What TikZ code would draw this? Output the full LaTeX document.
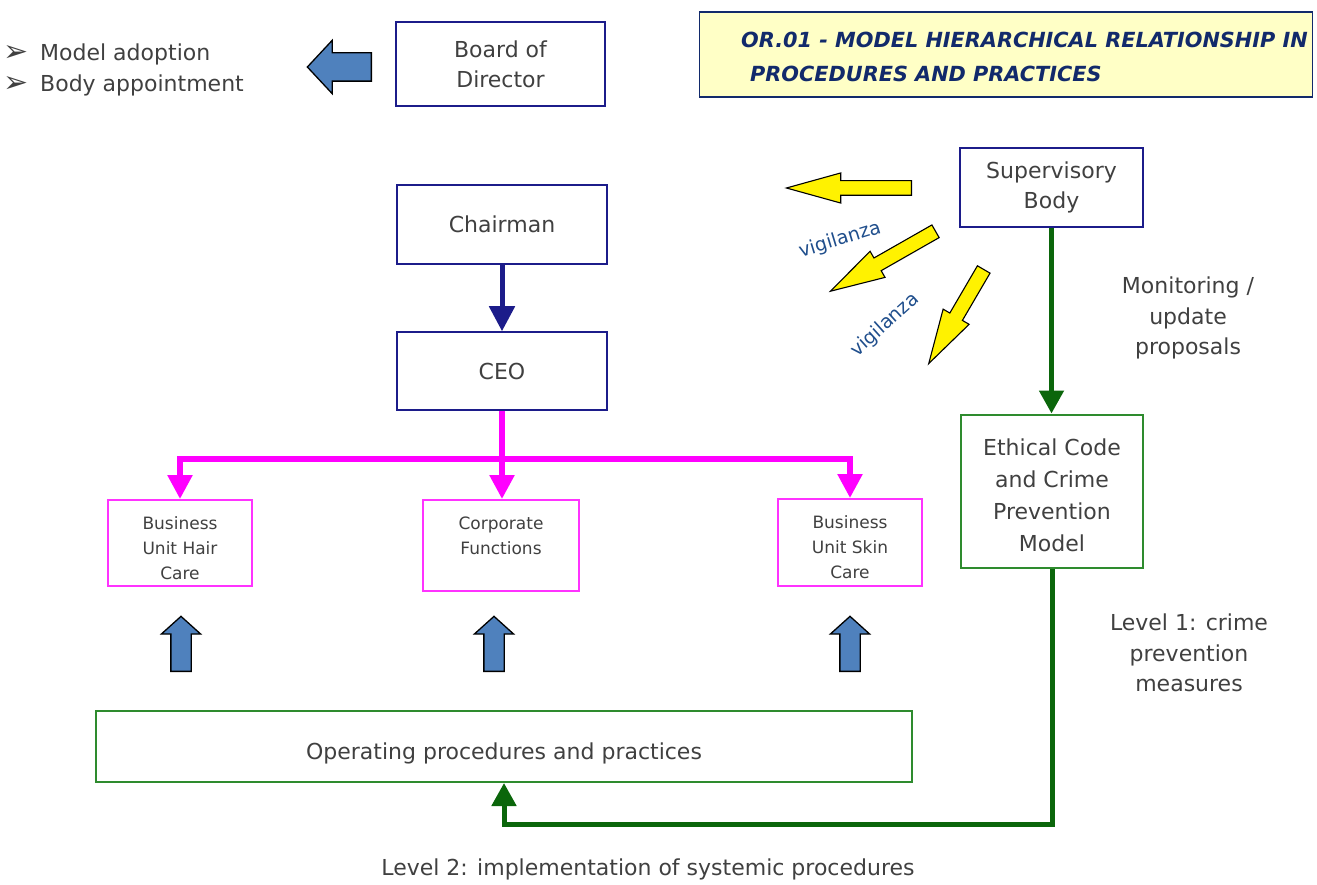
\documentclass[tikz,border=0pt]{standalone}
\usepackage{fontspec}
\setmainfont{DejaVu Sans}
\usetikzlibrary{shapes.arrows,arrows.meta,positioning}

\definecolor{boxnavy}{HTML}{1C1C8A}
\definecolor{textgrey}{HTML}{404040}
\definecolor{titlenavy}{HTML}{122A6B}
\definecolor{titlefill}{HTML}{FFFFC6}
\definecolor{boxpink}{HTML}{FF33FF}
\definecolor{linepink}{HTML}{FF00FF}
\definecolor{boxgreen}{HTML}{2E8B2E}
\definecolor{linegreen}{HTML}{0B660B}
\definecolor{arrowblue}{HTML}{4F81BD}
\definecolor{vigblue}{HTML}{1F4E8C}
\newcommand{\fs}[2]{\fontsize{#1}{#2}\selectfont}

\tikzset{
  navybox/.style={draw=boxnavy, line width=1.5pt, text=textgrey, align=center, font=\fs{22}{30}},
  pinkbox/.style={draw=boxpink, line width=2pt, text=textgrey, align=center, font=\fs{17}{25},
    minimum width=144pt, text height=73pt},
  greenbox/.style={draw=boxgreen, line width=2pt, text=textgrey, align=center, font=\fs{22}{32}},
  notetext/.style={text=textgrey, align=center, font=\fs{22}{30.5}},
  vigtext/.style={text=vigblue, font=\fs{19}{22}},
  blockarrow/.style={single arrow, draw=black, line width=1.3pt, inner xsep=0pt, minimum width=1pt, anchor=tail},
  bluearrow/.style={blockarrow, fill=arrowblue},
  yellowarrow/.style={blockarrow, fill=yellow, line width=1.1pt, inner ysep=6.75pt,
    single arrow head extend=7.75pt, single arrow tip angle=31, minimum height=#1},
  upblock/.style={bluearrow, rotate=90, minimum height=55pt, inner ysep=9.5pt,
    single arrow head extend=9.5pt, single arrow tip angle=96},
  navyline/.style={draw=boxnavy, line width=5pt, -{Triangle[length=25pt,width=25pt]}},
  pinkline/.style={draw=linepink, line width=5.5pt},
  pinktip/.style={pinkline, -{Triangle[length=24pt,width=24pt]}},
  greenline/.style={draw=linegreen, line width=5pt},
  greentip/.style={greenline, -{Triangle[length=23pt,width=24pt]}},
}

\begin{document}
\begin{tikzpicture}[x=1pt, y=-1pt]
  \useasboundingbox (0,0) rectangle (1317,885);

  % title
  \node[draw=titlenavy, line width=1.5pt, fill=titlefill, minimum width=613pt, minimum height=85pt] (titlebox) at (1006,54.5) {};
  \node[anchor=west, align=left, inner xsep=0pt, text=titlenavy, font=\fs{20.8}{34}\bfseries\itshape] (titletext) at (741,57)
    {OR.01 - MODEL HIERARCHICAL RELATIONSHIP IN\\\hspace{9pt}PROCEDURES AND PRACTICES};

  % hierarchy
  \node[navybox, minimum width=209pt, minimum height=84pt] (board) at (500.5,64) {Board of\\Director};
  \node[navybox, minimum width=210pt, minimum height=79pt] (chairman) at (502,224.5) {Chairman};
  \node[navybox, minimum width=210pt, minimum height=78pt] (ceo) at (502,371) {CEO};
  \node[navybox, minimum width=183pt, minimum height=79pt] (supervisory) at (1051.5,187.5) {Supervisory\\Body};
  \node[greenbox, minimum width=182pt, minimum height=153pt, text height=120.7pt] (ethical) at (1052,491) {Ethical Code\\and Crime\\Prevention\\Model};

  \node[pinkbox, minimum height=86pt] (hair) at (180,543) {Business\\Unit Hair\\Care};
  \node[pinkbox, minimum width=156pt, minimum height=91pt, text height=67pt] (corporate) at (501,545.5) {Corporate\\Functions\\\mbox{}};
  \node[pinkbox, minimum height=87pt] (skin) at (850,542.5) {Business\\Unit Skin\\Care};
  \node[greenbox, minimum width=816pt, minimum height=71pt, text height=30pt, text depth=4pt] (operating) at (504,746.5) {Operating procedures and practices};

  % texts
  \node[notetext, anchor=west, align=left, inner xsep=0pt] (duties) at (3,70)
    {\makebox[37pt][l]{\fs{30}{30}\raisebox{-1pt}{➢}}Model adoption\\\makebox[37pt][l]{\fs{30}{30}\raisebox{-1pt}{➢}}Body appointment};
  \node[notetext] (monitoring) at (1188,318) {Monitoring /\\update\\proposals};
  \node[notetext] (levelone) at (1189,653) {Level 1: crime\\prevention\\measures};
  \node[notetext] (leveltwo) at (648,869) {Level 2: implementation of systemic procedures};
  \node[vigtext, rotate=17] (vigone) at (840,240) {vigilanza};
  \node[vigtext, rotate=42] (vigtwo) at (885,325) {vigilanza};

  % block arrows
  \node[bluearrow, rotate=180, minimum height=64pt, inner ysep=13.5pt,
    single arrow head extend=12.5pt, single arrow tip angle=94] (adoption) at (372,67) {};
  \node[upblock] (hairup) at (181,672) {};
  \node[upblock] (corpup) at (494,672) {};
  \node[upblock] (skinup) at (850,672) {};
  \node[yellowarrow=125pt, rotate=180] (watchone) at (912,188) {};
  \node[yellowarrow=121pt, rotate=209.7] (watchtwo) at (936,231) {};
  \node[yellowarrow=109pt, rotate=239.7] (watchthree) at (984,269) {};

  % connectors
  \draw[navyline] (chairman.south) -- (ceo.north);
  \draw[pinkline] (ceo.south) -- ++(0,48) coordinate (split);
  \draw[pinktip] (split) -- (split |- corporate.north);
  \draw[pinktip] (split) -| (hair.north);
  \draw[pinktip] (split) -| (skin.north);
  \draw[greentip] (supervisory.south) -- (supervisory.south |- ethical.north);
  \draw[greentip] (ethical.south) -- ++(0,256) coordinate (loopcorner) -| (operating.south);
\end{tikzpicture}
\end{document}
